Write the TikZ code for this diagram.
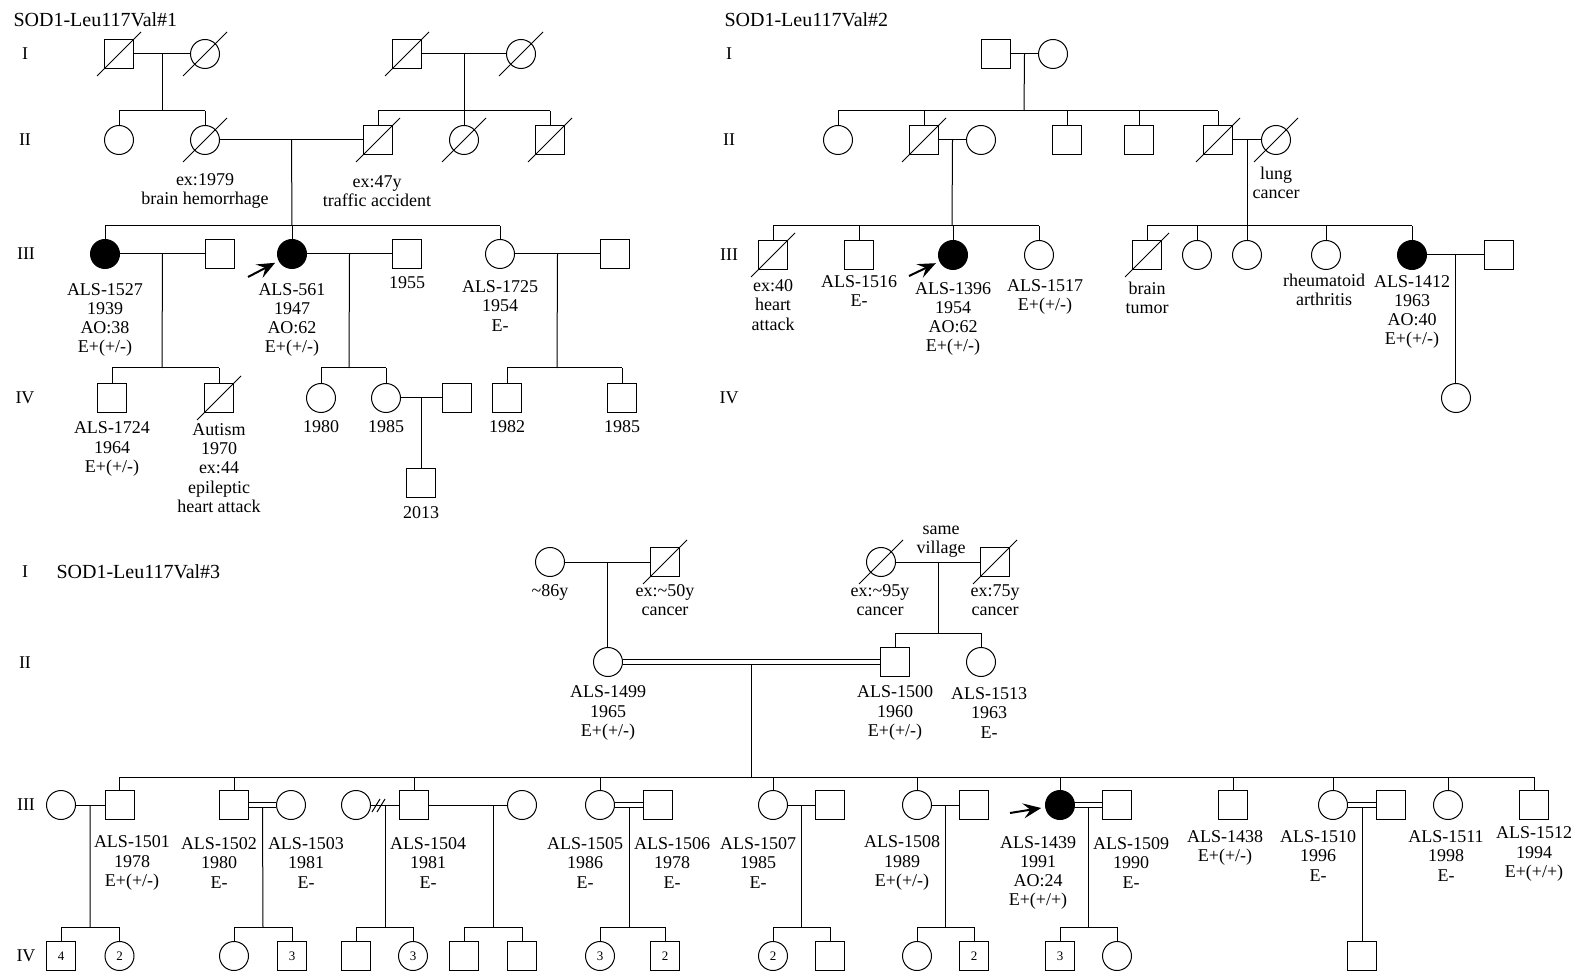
\documentclass[tikz,border=0pt]{standalone}
\usepackage{fontspec}
\setmainfont{Liberation Serif}
\usetikzlibrary{arrows.meta,calc}

\tikzset{
  male/.style={draw, rectangle, minimum size=29pt, inner sep=0pt},
  female/.style={draw, circle, minimum size=29pt, inner sep=0pt},
  aff/.style={fill=black},
  info/.style={align=center, inner sep=0pt, font=\fontsize{18}{19.3}\selectfont},
  gen/.style={inner sep=0pt, font=\fontsize{18}{20}\selectfont},
  title/.style={anchor=west, inner sep=0pt, font=\fontsize{20}{22}\selectfont},
  num/.style={font=\fontsize{13}{13}\selectfont},
  proband/.style={-{Stealth[length=18pt,width=15pt,inset=7pt]}, line width=2pt, shorten >=4pt},
  consang/.style={double, double distance=4pt},
}

\begin{document}
\begin{tikzpicture}[x=1pt, y=-1pt, line width=1pt]
    \fill[white] (0,0) rectangle (1580,973);
    \useasboundingbox (0,0) rectangle (1580,973);

    % ---------------- SOD1-Leu117Val#1 ----------------
    \node[title] (a0) at (13,20) {SOD1-Leu117Val\#1};
    \node[gen] (aI) at (25,54) {I};
    \node[gen] (aII) at (25,140) {II};
    \node[gen] (aIII) at (26,254) {III};
    \node[gen] (aIV) at (25,398) {IV};

    % generation I
    \node[male] (a11) at (119,54) {};
    \node[female] (a12) at (205,54) {};
    \node[male] (a13) at (407,54) {};
    \node[female] (a14) at (521,54) {};
    % generation II
    \node[female] (a21) at (119,140) {};
    \node[female] (a22) at (205,140) {};
    \node[male] (a23) at (378,140) {};
    \node[female] (a24) at (464,140) {};
    \node[male] (a25) at (550,140) {};
    % generation III
    \node[female, aff] (a31) at (105,254) {};
    \node[male] (a32) at (220,254) {};
    \node[female, aff] (a33) at (292,254) {};
    \node[male] (a34) at (407,254) {};
    \node[female] (a35) at (500,254) {};
    \node[male] (a36) at (615,254) {};
    % generation IV
    \node[male] (a41) at (112,398) {};
    \node[male] (a42) at (219,398) {};
    \node[female] (a43) at (321,398) {};
    \node[female] (a44) at (386,398) {};
    \node[male] (a45) at (457,398) {};
    \node[male] (a46) at (507,398) {};
    \node[male] (a47) at (622,398) {};
    \node[male] (a51) at (421,483) {};

    % couples and sibships
    \draw (a11) -- (a12);
    \coordinate (am1) at ($(a11)!.5!(a12)$);
    \coordinate (as1) at (162,111);
    \draw (am1) -- (as1);
    \draw (a21.north |- as1) -- (a22.north |- as1);
    \foreach \n in {a21,a22} \draw (\n.north) -- (\n.north |- as1);

    \draw (a13) -- (a14);
    \coordinate (am2) at ($(a13)!.5!(a14)$);
    \coordinate (as2) at (464,111);
    \draw (am2) -- (as2);
    \draw (a23.north |- as2) -- (a25.north |- as2);
    \foreach \n in {a23,a24,a25} \draw (\n.north) -- (\n.north |- as2);

    \draw (a22) -- (a23);
    \coordinate (am3) at ($(a22)!.5!(a23)$);
    \coordinate (as3) at (292,226);
    \draw (am3) -- (as3);
    \draw (a31.north |- as3) -- (a35.north |- as3);
    \foreach \n in {a31,a33,a35} \draw (\n.north) -- (\n.north |- as3);

    \draw (a31) -- (a32);
    \coordinate (am4) at ($(a31)!.5!(a32)$);
    \coordinate (as4) at (162,368);
    \draw (am4) -- (as4);
    \draw (a41.north |- as4) -- (a42.north |- as4);
    \foreach \n in {a41,a42} \draw (\n.north) -- (\n.north |- as4);

    \draw (a33) -- (a34);
    \coordinate (am5) at ($(a33)!.5!(a34)$);
    \coordinate (as5) at (349,368);
    \draw (am5) -- (as5);
    \draw (a43.north |- as5) -- (a44.north |- as5);
    \foreach \n in {a43,a44} \draw (\n.north) -- (\n.north |- as5);

    \draw (a35) -- (a36);
    \coordinate (am6) at ($(a35)!.5!(a36)$);
    \coordinate (as6) at (557,368);
    \draw (am6) -- (as6);
    \draw (a46.north |- as6) -- (a47.north |- as6);
    \foreach \n in {a46,a47} \draw (\n.north) -- (\n.north |- as6);

    \draw (a44) -- (a45);
    \coordinate (am7) at ($(a44)!.5!(a45)$);
    \draw (am7) -- (am7 |- a51.north);

    % proband
    \coordinate (a33t) at (248,277);
    \draw[proband] (a33t) -- (a33);

    % labels
    \node[info] (a22l) at (205,191) {ex:1979\\brain hemorrhage};
    \node[info] (a23l) at (377,191) {ex:47y\\traffic accident};
    \node[info] (a31l) at (105,320) {ALS-1527\\1939\\AO:38\\E+(+/-)};
    \node[info] (a33l) at (292,320) {ALS-561\\1947\\AO:62\\E+(+/-)};
    \node[info] (a34l) at (407,283) {1955};
    \node[info] (a35l) at (500,306) {ALS-1725\\1954\\E-};
    \node[info] (a41l) at (112,449) {ALS-1724\\1964\\E+(+/-)};
    \node[info] (a42l) at (219,468) {Autism\\1970\\ex:44\\epileptic\\heart attack};
    \node[info] (a43l) at (321,427) {1980};
    \node[info] (a44l) at (386,427) {1985};
    \node[info] (a46l) at (507,427) {1982};
    \node[info] (a47l) at (622,427) {1985};
    \node[info] (a51l) at (421,513) {2013};

    % ---------------- SOD1-Leu117Val#2 ----------------
    \node[title] (b0) at (724,20) {SOD1-Leu117Val\#2};
    \node[gen] (bI) at (729,54) {I};
    \node[gen] (bII) at (729,140) {II};
    \node[gen] (bIII) at (729,255) {III};
    \node[gen] (bIV) at (729,398) {IV};

    \node[male] (b11) at (996,54) {};
    \node[female] (b12) at (1053,54) {};

    \node[female] (b21) at (838,140) {};
    \node[male] (b22) at (924,140) {};
    \node[female] (b23) at (981,140) {};
    \node[male] (b24) at (1067,140) {};
    \node[male] (b25) at (1139,140) {};
    \node[male] (b26) at (1218,140) {};
    \node[female] (b27) at (1276,140) {};

    \node[male] (b31) at (773,255) {};
    \node[male] (b32) at (859,255) {};
    \node[female, aff] (b33) at (953,255) {};
    \node[female] (b34) at (1039,255) {};
    \node[male] (b35) at (1147,255) {};
    \node[female] (b36) at (1197,255) {};
    \node[female] (b37) at (1247,255) {};
    \node[female] (b38) at (1326,255) {};
    \node[female, aff] (b39) at (1412,255) {};
    \node[male] (b3a) at (1499,255) {};

    \node[female] (b41) at (1456,398) {};

    \draw (b11) -- (b12);
    \coordinate (bm1) at ($(b11)!.5!(b12)$);
    \coordinate (bs1) at (1024,111);
    \draw (bm1) -- (bs1);
    \draw (b21.north |- bs1) -- (b26.north |- bs1);
    \foreach \n in {b21,b22,b24,b25,b26} \draw (\n.north) -- (\n.north |- bs1);

    \draw (b22) -- (b23);
    \coordinate (bm2) at ($(b22)!.5!(b23)$);
    \coordinate (bs2) at (952,226);
    \draw (bm2) -- (bs2);
    \draw (b31.north |- bs2) -- (b34.north |- bs2);
    \foreach \n in {b31,b32,b33,b34} \draw (\n.north) -- (\n.north |- bs2);

    \draw (b26) -- (b27);
    \coordinate (bm3) at ($(b26)!.5!(b27)$);
    \coordinate (bs3) at (1247,226);
    \draw (bm3) -- (bs3);
    \draw (b35.north |- bs3) -- (b39.north |- bs3);
    \foreach \n in {b35,b36,b37,b38,b39} \draw (\n.north) -- (\n.north |- bs3);

    \draw (b39) -- (b3a);
    \coordinate (bm4) at ($(b39)!.5!(b3a)$);
    \draw (bm4) -- (bm4 |- b41.north);

    \coordinate (b33t) at (909,276);
    \draw[proband] (b33t) -- (b33);

    \node[info] (b27l) at (1276,183) {lung\\cancer};
    \node[info] (b31l) at (773,305) {ex:40\\heart\\attack};
    \node[info] (b32l) at (859,291) {ALS-1516\\E-};
    \node[info] (b33l) at (953,319) {ALS-1396\\1954\\AO:62\\E+(+/-)};
    \node[info] (b34l) at (1045,297) {ALS-1517\\E+(+/-)};
    \node[info] (b35l) at (1147,298) {brain\\tumor};
    \node[info] (b38l) at (1324,290) {rheumatoid\\arthritis};
    \node[info] (b39l) at (1412,312) {ALS-1412\\1963\\AO:40\\E+(+/-)};

    % ---------------- SOD1-Leu117Val#3 ----------------
    \node[title] (c0) at (56,572) {SOD1-Leu117Val\#3};
    \node[gen] (cI) at (25,572) {I};
    \node[gen] (cII) at (25,663) {II};
    \node[gen] (cIII) at (26,805) {III};
    \node[gen] (cIV) at (26,956) {IV};

    \node[female] (c11) at (550,562) {};
    \node[male] (c12) at (665,562) {};
    \node[female] (c13) at (881,562) {};
    \node[male] (c14) at (995,562) {};

    \node[female] (c21) at (608,662) {};
    \node[male] (c22) at (895,662) {};
    \node[female] (c23) at (981,662) {};

    \node[female] (c31) at (61,805) {};
    \node[male] (c32) at (119.5,805) {};
    \node[male] (c33) at (234,805) {};
    \node[female] (c34) at (291,805) {};
    \node[female] (c35) at (356,805) {};
    \node[male] (c36) at (414,805) {};
    \node[female] (c37) at (522,805) {};
    \node[female] (c38) at (600,805) {};
    \node[male] (c39) at (658,805) {};
    \node[female] (c3a) at (773,805) {};
    \node[male] (c3b) at (830,805) {};
    \node[female] (c3c) at (917,805) {};
    \node[male] (c3d) at (974,805) {};
    \node[female, aff] (c3e) at (1060,805) {};
    \node[male] (c3f) at (1117,805) {};
    \node[male] (c3g) at (1233,805) {};
    \node[female] (c3h) at (1333,805) {};
    \node[male] (c3i) at (1391,805) {};
    \node[female] (c3j) at (1448,805) {};
    \node[male] (c3k) at (1534,805) {};

    \node[male, num] (c41) at (61,956) {4};
    \node[female, num] (c42) at (119.5,956) {2};
    \node[female] (c43) at (234,956) {};
    \node[male, num] (c44) at (292,956) {3};
    \node[male] (c45) at (356,956) {};
    \node[female, num] (c46) at (413,956) {3};
    \node[male] (c47) at (464,956) {};
    \node[male] (c48) at (522,956) {};
    \node[female, num] (c49) at (600,956) {3};
    \node[male, num] (c4a) at (665,956) {2};
    \node[female, num] (c4b) at (773,956) {2};
    \node[male] (c4c) at (830,956) {};
    \node[female] (c4d) at (917,956) {};
    \node[male, num] (c4e) at (974,956) {2};
    \node[male, num] (c4f) at (1060,956) {3};
    \node[female] (c4g) at (1117,956) {};
    \node[male] (c4h) at (1362,956) {};

    % generation I to II
    \draw (c11) -- (c12);
    \coordinate (cm1) at ($(c11)!.5!(c12)$);
    \draw (cm1) -- (cm1 |- c21.north);

    \draw (c13) -- (c14);
    \coordinate (cm2) at ($(c13)!.5!(c14)$);
    \coordinate (cs2) at (938,633);
    \draw (cm2) -- (cs2);
    \draw (c22.north |- cs2) -- (c23.north |- cs2);
    \foreach \n in {c22,c23} \draw (\n.north) -- (\n.north |- cs2);

    % consanguineous parents
    \draw[consang] (c21) -- (c22);
    \coordinate (cm3) at ($(c21)!.5!(c22)$);
    \coordinate (cs3) at (751.5,777);
    \draw ([yshift=-2.5pt]cm3) -- (cs3);
    \draw (c32.north |- cs3) -- (c3k.north |- cs3);
    \foreach \n in {c32,c33,c36,c38,c3a,c3c,c3e,c3g,c3h,c3j,c3k} \draw (\n.north) -- (\n.north |- cs3);

    % generation III couples
    \draw (c31) -- (c32);
    \coordinate (cm4) at ($(c31)!.5!(c32)$);
    \coordinate (cs4) at (90,927);
    \draw (cm4) -- (cs4);
    \draw (c41.north |- cs4) -- (c42.north |- cs4);
    \foreach \n in {c41,c42} \draw (\n.north) -- (\n.north |- cs4);

    \draw[consang] (c33) -- (c34);
    \coordinate (cm5) at ($(c33)!.5!(c34)$);
    \coordinate (cs5) at (263,927);
    \draw ([yshift=-2.5pt]cm5) -- (cs5);
    \draw (c43.north |- cs5) -- (c44.north |- cs5);
    \foreach \n in {c43,c44} \draw (\n.north) -- (\n.north |- cs5);

    \draw (c35) -- (c36);
    \draw (372,812) -- (380,799);
    \draw (377,812) -- (385,799);
    \coordinate (cm6) at ($(c35)!.5!(c36)$);
    \coordinate (cs6) at (385,927);
    \draw (cm6) -- (cs6);
    \draw (c45.north |- cs6) -- (c46.north |- cs6);
    \foreach \n in {c45,c46} \draw (\n.north) -- (\n.north |- cs6);

    \draw (c36) -- (c37);
    \coordinate (cm7) at (493,805);
    \coordinate (cs7) at (493,927);
    \draw (cm7) -- (cs7);
    \draw (c47.north |- cs7) -- (c48.north |- cs7);
    \foreach \n in {c47,c48} \draw (\n.north) -- (\n.north |- cs7);

    \draw[consang] (c38) -- (c39);
    \coordinate (cm8) at ($(c38)!.5!(c39)$);
    \coordinate (cs8) at (629,927);
    \draw ([yshift=-2.5pt]cm8) -- (cs8);
    \draw (c49.north |- cs8) -- (c4a.north |- cs8);
    \foreach \n in {c49,c4a} \draw (\n.north) -- (\n.north |- cs8);

    \draw (c3a) -- (c3b);
    \coordinate (cm9) at ($(c3a)!.5!(c3b)$);
    \coordinate (cs9) at (801.5,927);
    \draw (cm9) -- (cs9);
    \draw (c4b.north |- cs9) -- (c4c.north |- cs9);
    \foreach \n in {c4b,c4c} \draw (\n.north) -- (\n.north |- cs9);

    \draw (c3c) -- (c3d);
    \coordinate (cm10) at ($(c3c)!.5!(c3d)$);
    \coordinate (cs10) at (945.5,927);
    \draw (cm10) -- (cs10);
    \draw (c4d.north |- cs10) -- (c4e.north |- cs10);
    \foreach \n in {c4d,c4e} \draw (\n.north) -- (\n.north |- cs10);

    \draw[consang] (c3e) -- (c3f);
    \coordinate (cm11) at ($(c3e)!.5!(c3f)$);
    \coordinate (cs11) at (1088.5,927);
    \draw ([yshift=-2.5pt]cm11) -- (cs11);
    \draw (c4f.north |- cs11) -- (c4g.north |- cs11);
    \foreach \n in {c4f,c4g} \draw (\n.north) -- (\n.north |- cs11);

    \draw[consang] (c3h) -- (c3i);
    \coordinate (cm12) at ($(c3h)!.5!(c3i)$);
    \draw ([yshift=-2.5pt]cm12) -- (cm12 |- c4h.north);

    \coordinate (c3et) at (1010,813);
    \draw[proband] (c3et) -- (c3e);

    % labels
    \node[info] (c11l) at (550,592) {\textasciitilde86y};
    \node[info] (c12l) at (665,600) {ex:\textasciitilde50y\\cancer};
    \node[info] (c13l) at (880,600) {ex:\textasciitilde95y\\cancer};
    \node[info] (c14l) at (995,600) {ex:75y\\cancer};
    \node[info] (cvil) at (941,542) {same\\village};
    \node[info] (c21l) at (608,713) {ALS-1499\\1965\\E+(+/-)};
    \node[info] (c22l) at (895,713) {ALS-1500\\1960\\E+(+/-)};
    \node[info] (c23l) at (989,713) {ALS-1513\\1963\\E-};
    \node[info] (c32l) at (132,863) {ALS-1501\\1978\\E+(+/-)};
    \node[info] (c33l) at (219,863) {ALS-1502\\1980\\E-};
    \node[info] (c34l) at (306,863) {ALS-1503\\1981\\E-};
    \node[info] (c36l) at (428,863) {ALS-1504\\1981\\E-};
    \node[info] (c38l) at (585,863) {ALS-1505\\1986\\E-};
    \node[info] (c39l) at (672,863) {ALS-1506\\1978\\E-};
    \node[info] (c3al) at (758,863) {ALS-1507\\1985\\E-};
    \node[info] (c3cl) at (902,863) {ALS-1508\\1989\\E+(+/-)};
    \node[info] (c3el) at (1038,873) {ALS-1439\\1991\\AO:24\\E+(+/+)};
    \node[info] (c3fl) at (1131,863) {ALS-1509\\1990\\E-};
    \node[info] (c3gl) at (1225,848) {ALS-1438\\E+(+/-)};
    \node[info] (c3hl) at (1318,856) {ALS-1510\\1996\\E-};
    \node[info] (c3jl) at (1446,856) {ALS-1511\\1998\\E-};
    \node[info] (c3kl) at (1534,854) {ALS-1512\\1994\\E+(+/+)};

    % deceased
    \foreach \n in {a11,a12,a13,a14,a22,a23,a24,a25,a42,b22,b26,b27,b31,b35,c12,c13,c14}
        \draw ([shift={(-22pt,-22pt)}]\n.center) -- ([shift={(22pt,22pt)}]\n.center);
\end{tikzpicture}
\end{document}
